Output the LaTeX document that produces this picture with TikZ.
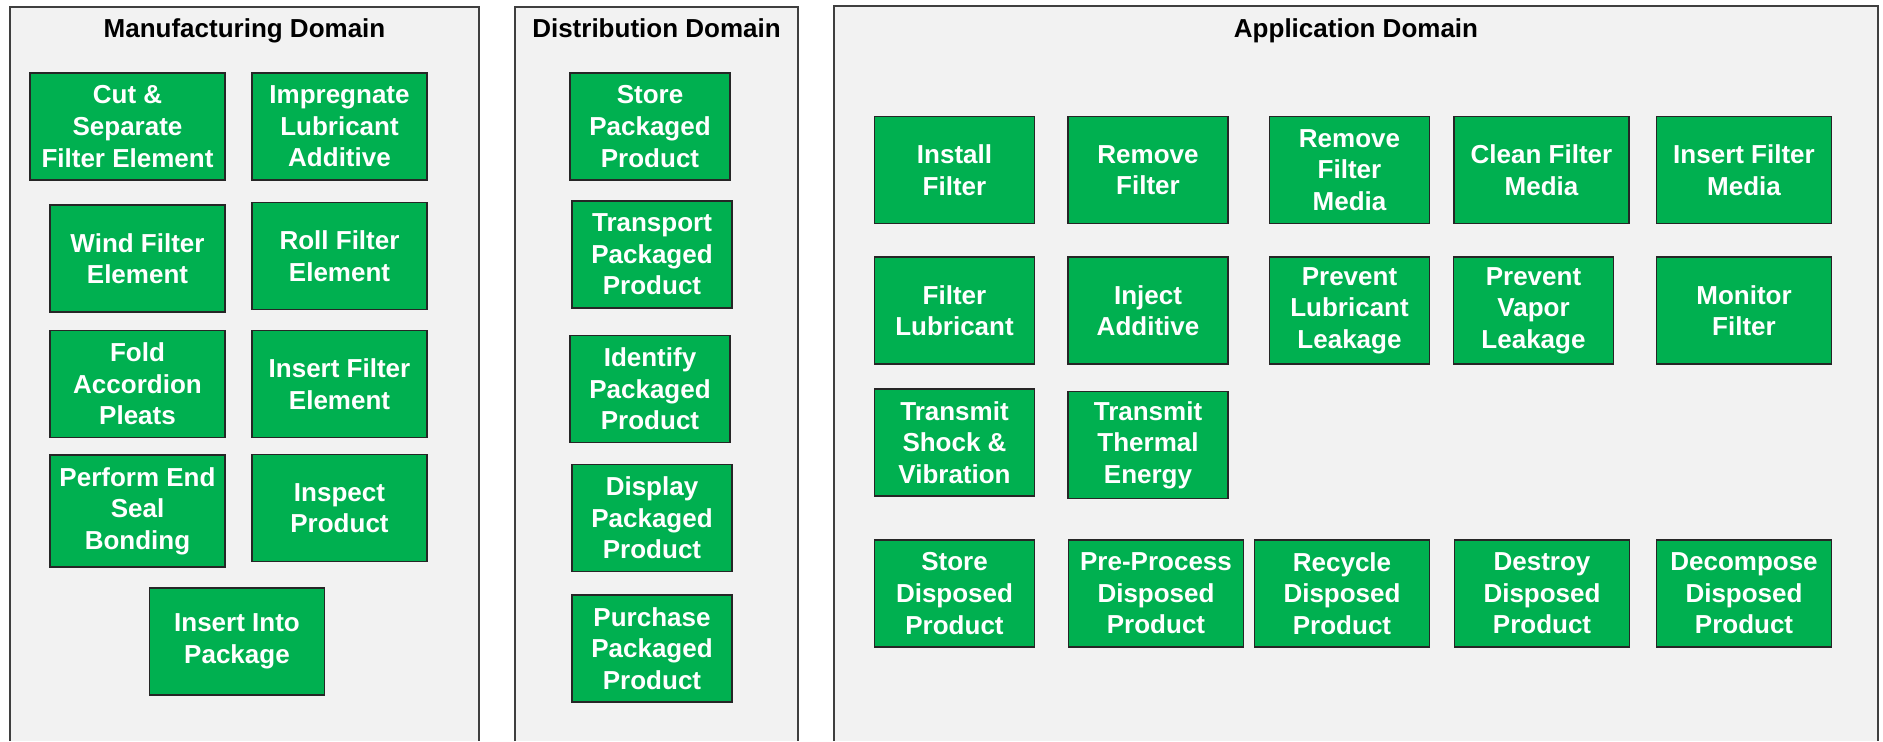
\documentclass[tikz,border=0pt]{standalone}
\usepackage{fontspec}
\setmainfont{Liberation Sans}
\definecolor{actgreen}{HTML}{00B050}
\definecolor{panelgray}{HTML}{F2F2F2}
\definecolor{panelline}{HTML}{3F3F3F}
\tikzset{
  func/.style={draw=black!85, line width=0.6pt, fill=actgreen, text=white,
    font=\bfseries\fontsize{13}{15.8}\selectfont, align=center, inner sep=0pt,
    minimum width=80pt, minimum height=53.5pt},
  wide/.style={minimum width=87.5pt},
  panel/.style={draw=panelline, line width=0.6pt},
  domtitle/.style={font=\bfseries\fontsize{13}{15.8}\selectfont, text=black, inner sep=0pt, anchor=base}
}

\begin{document}
\begin{tikzpicture}[x=0.5pt,y=-0.5pt]
            \fill[white] (0,0) rectangle (1883,741);
            \useasboundingbox (0,0) rectangle (1883,741);

            % domains
            \fill[panelgray] (10,7) rectangle (479,741);
            \draw[panel] (10,741) -- (10,7) -- (479,7) -- (479,741);
            \fill[panelgray] (515,7) rectangle (798,741);
            \draw[panel] (515,741) -- (515,7) -- (798,7) -- (798,741);
            \fill[panelgray] (834,6) rectangle (1878,741);
            \draw[panel] (834,741) -- (834,6) -- (1878,6) -- (1878,741);

            \node[domtitle] (mfgTitle) at (244.5,37) {Manufacturing Domain};
            \node[domtitle] (distTitle) at (656.5,37) {Distribution Domain};
            \node[domtitle] (appTitle) at (1356,37) {Application Domain};

            % manufacturing
            \node[func, minimum width=97.5pt] (cutSep) at (127.5,126.5) {Cut \&\\Separate\\Filter Element};
            \node[func, wide] (impLub) at (339.5,126.5) {Impregnate\\Lubricant\\Additive};
            \node[func, wide] (windEl) at (137.5,258.5) {Wind Filter\\Element};
            \node[func, wide] (rollEl) at (339.5,256) {Roll Filter\\Element};
            \node[func, wide] (foldPl) at (137.5,384) {Fold\\Accordion\\Pleats};
            \node[func, wide] (insEl) at (339.5,384) {Insert Filter\\Element};
            \node[func, wide, minimum height=56pt] (endSeal) at (137.5,511) {Perform End\\Seal\\Bonding};
            \node[func, wide] (inspProd) at (339.5,508) {Inspect\\Product};
            \node[func, wide] (insPkg) at (237,641.5) {Insert Into\\Package};

            % distribution
            \node[func] (storePkg) at (650,126.5) {Store\\Packaged\\Product};
            \node[func] (transPkg) at (652,254.5) {Transport\\Packaged\\Product};
            \node[func] (identPkg) at (650,389) {Identify\\Packaged\\Product};
            \node[func] (dispPkg) at (652,518) {Display\\Packaged\\Product};
            \node[func] (buyPkg) at (652,648.5) {Purchase\\Packaged\\Product};

            % application
            \node[func] (instFilt) at (954.5,170) {Install\\Filter};
            \node[func] (remFilt) at (1148,170) {Remove\\Filter};
            \node[func] (remMedia) at (1349.5,170) {Remove\\Filter\\Media};
            \node[func, wide] (cleanMedia) at (1541.5,170) {Clean Filter\\Media};
            \node[func, wide] (insMedia) at (1744,170) {Insert Filter\\Media};

            \node[func] (filtLub) at (954.5,310.5) {Filter\\Lubricant};
            \node[func] (injAdd) at (1148,310.5) {Inject\\Additive};
            \node[func] (lubLeak) at (1349.5,310.5) {Prevent\\Lubricant\\Leakage};
            \node[func] (vapLeak) at (1533.5,310.5) {Prevent\\Vapor\\Leakage};
            \node[func, wide] (monFilt) at (1744,310.5) {Monitor\\Filter};

            \node[func] (shockVib) at (954.5,442.5) {Transmit\\Shock \&\\Vibration};
            \node[func] (thermEn) at (1148,445) {Transmit\\Thermal\\Energy};

            \node[func] (storeDisp) at (954.5,593.5) {Store\\Disposed\\Product};
            \node[func, wide] (preDisp) at (1156,593.5) {Pre-Process\\Disposed\\Product};
            \node[func, wide] (recDisp) at (1342,593.5) {Recycle\\Disposed\\Product};
            \node[func, wide] (destDisp) at (1542,593.5) {Destroy\\Disposed\\Product};
            \node[func, wide] (decDisp) at (1744,593.5) {Decompose\\Disposed\\Product};
\end{tikzpicture}
\end{document}
